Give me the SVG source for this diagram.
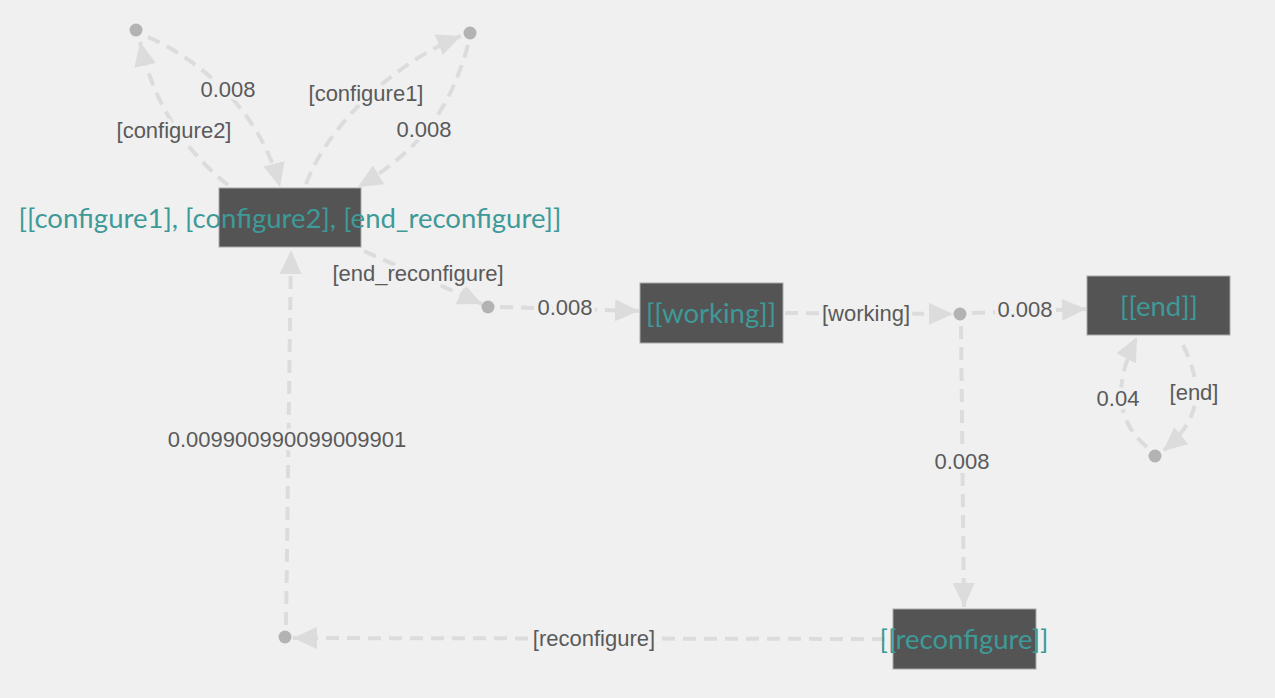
<svg xmlns="http://www.w3.org/2000/svg" width="1275" height="698" viewBox="0 0 1275 698">
<style>
.edge{fill:none;stroke:#dcdcdc;stroke-width:4;stroke-dasharray:13 8;marker-end:url(#arr)}
.lbl{font-family:"Liberation Sans",Arial,sans-serif;font-size:22px;fill:#5a5a5a;text-anchor:middle;dominant-baseline:central;stroke:#f0f0f0;stroke-width:7;stroke-linejoin:round;paint-order:stroke}
.box{fill:#545454;stroke:#a8a8a8;stroke-width:1}
.ntxt{font-family:Lato,"Open Sans",sans-serif;font-size:27.5px;fill:#3e9a98;text-anchor:middle}
.dot{fill:#b3b3b3}
</style>
<defs>
<marker id="arr" markerUnits="userSpaceOnUse" viewBox="0 0 24 22" markerWidth="24" markerHeight="22" refX="24" refY="11" orient="auto">
<path d="M0,0 L24,11 L0,22 Z" fill="#dcdcdc" stroke="none"/>
</marker>
</defs>
<rect x="0" y="0" width="1275" height="698" fill="#f0f0f0"/>
<g id="connectors">
<path class="edge" d="M228,185 C190,155 155,110 140,42"/>
<path class="edge" d="M148,37 C200,60 260,110 280,187"/>
<path class="edge" d="M306,184 C330,120 400,60 461,36"/>
<path class="edge" d="M468,45 C450,110 420,150 358,187"/>
<path class="edge" d="M364,251 L482,304"/>
<path class="edge" d="M500,307 L639,311"/>
<path class="edge" d="M785,313 L953,314"/>
<path class="edge" d="M972,313 L1086,309"/>
<path class="edge" d="M961,326 L964,607"/>
<path class="edge" d="M885,639 L293,638"/>
<path class="edge" d="M286,625 L291,250"/>
<path class="edge" d="M1183,345 C1205,390 1200,420 1163,451"/>
<path class="edge" d="M1147,447 C1120,425 1110,390 1137,337"/>
<text class="lbl" x="174" y="130">[configure2]</text>
<text class="lbl" x="228" y="89">0.008</text>
<text class="lbl" x="366" y="93">[configure1]</text>
<text class="lbl" x="424" y="129">0.008</text>
<text class="lbl" x="418" y="273">[end_reconfigure]</text>
<text class="lbl" x="565" y="307">0.008</text>
<text class="lbl" x="866" y="313">[working]</text>
<text class="lbl" x="1025" y="309">0.008</text>
<text class="lbl" x="962" y="461">0.008</text>
<text class="lbl" x="594" y="638">[reconfigure]</text>
<text class="lbl" x="287" y="439">0.009900990099009901</text>
<text class="lbl" x="1194" y="392">[end]</text>
<text class="lbl" x="1118" y="398">0.04</text>
</g>
<g id="n-config">
<rect class="box" x="219" y="188" width="142" height="59"/>
<text class="ntxt" x="290" y="228">[[configure1], [configure2], [end_reconfigure]]</text>
</g>
<g id="n-working">
<rect class="box" x="640" y="283" width="143" height="60"/>
<text class="ntxt" x="711" y="323">[[working]]</text>
</g>
<g id="n-end">
<rect class="box" x="1087" y="276" width="143" height="59"/>
<text class="ntxt" x="1159" y="316">[[end]]</text>
</g>
<g id="n-reconfigure">
<rect class="box" x="893" y="609" width="143" height="60"/>
<text class="ntxt" x="964" y="649">[[reconfigure]]</text>
</g>
<g id="p-cfg2"><circle class="dot" cx="136" cy="30" r="6.5"/></g>
<g id="p-cfg1"><circle class="dot" cx="470" cy="33" r="6.5"/></g>
<g id="p-endrec"><circle class="dot" cx="488" cy="307" r="6.5"/></g>
<g id="p-working"><circle class="dot" cx="960" cy="314" r="6.5"/></g>
<g id="p-end"><circle class="dot" cx="1155" cy="456" r="6.5"/></g>
<g id="p-reconf"><circle class="dot" cx="285" cy="637" r="6.5"/></g>
</svg>
